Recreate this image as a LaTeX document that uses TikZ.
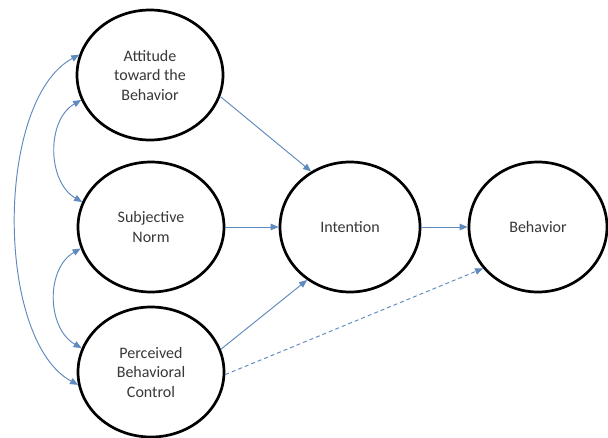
\documentclass[tikz,border=0pt]{standalone}
\usepackage{fontspec}
\setmainfont{Carlito}
\usetikzlibrary{arrows.meta,shapes.geometric}
\definecolor{linkblue}{RGB}{96,138,190}
\definecolor{labelgray}{RGB}{56,56,56}
\tikzset{
  construct/.style={ellipse, draw=black, line width=2.7pt, inner sep=0pt,
    minimum width=146pt, minimum height=130pt, align=center,
    font=\fontsize{16}{19.5}\selectfont, text=labelgray},
  link/.style={draw=linkblue, line width=0.95pt,
    -{Triangle[length=8pt,width=6.5pt]}},
  twoway/.style={draw=linkblue, line width=0.95pt,
    {Triangle[length=8pt,width=6.5pt]}-{Triangle[length=8pt,width=6.5pt]}},
  weaklink/.style={link, dash pattern=on 4pt off 3pt}
}
\begin{document}
\begin{tikzpicture}[x=1pt,y=-1pt]
  \useasboundingbox[fill=white] (0,0) rectangle (608,437);

  % predictors
  \node[construct] (att) at (150,75)  {Attitude\\toward the\\Behavior};
  \node[construct] (sn)  at (151,227) {Subjective\\Norm};
  \node[construct] (pbc) at (151,372) {Perceived\\Behavioral\\Control};
  % outcomes
  \node[construct, minimum width=140pt] (int) at (350,227) {Intention};
  \node[construct, minimum width=138pt] (beh) at (538,227) {Behavior};

  % direct paths
  \draw[link] (att.-17) -- (int.125);
  \draw[link] (sn.0) -- (int.180);
  \draw[link] (pbc.18) -- (int.231);
  \draw[link] (int.0) -- (beh.180);
  \draw[weaklink] (pbc.-2) -- (beh.217);

  % correlations among the predictors
  \draw[twoway] (att.200) .. controls +(-35,20) and +(-35,-20) .. (sn.160);
  \draw[twoway] (sn.197) .. controls +(-35,20) and +(-35,-20) .. (pbc.161);
  \draw[twoway] (att.164) .. controls (-5,100) and (-5,340) .. (pbc.190);
\end{tikzpicture}
\end{document}
